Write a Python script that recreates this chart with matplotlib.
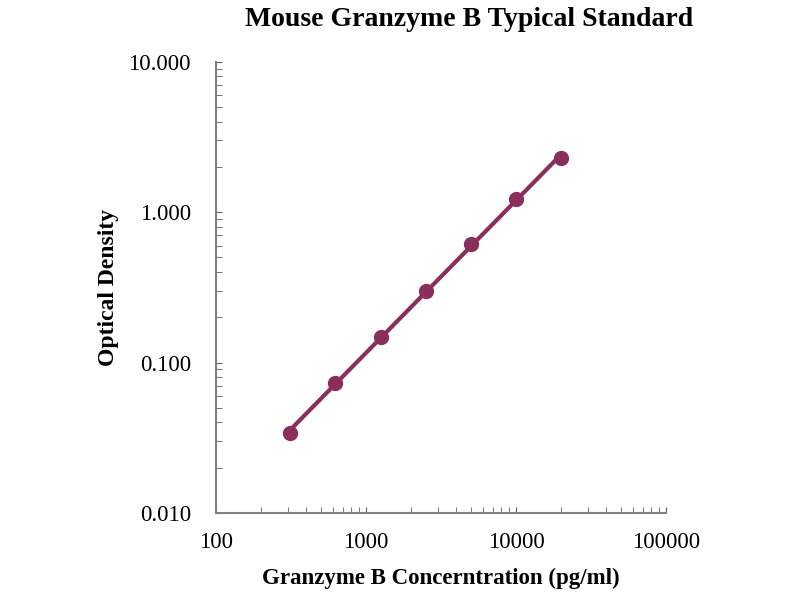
import numpy as np
import matplotlib
matplotlib.use('Agg')
import matplotlib.pyplot as plt
from matplotlib.ticker import LogLocator, FixedLocator, NullFormatter

# standard curve data
conc = [312.5, 625, 1250, 2500, 5000, 10000, 20000]
od = [0.034, 0.073, 0.148, 0.300, 0.615, 1.22, 2.28]

x_ticks = [100, 1000, 10000, 100000]
x_labels = ['100', '1000', '10000', '100000']
y_ticks = [0.01, 0.1, 1, 10]
y_labels = ['0.010', '0.100', '1.000', '10.000']

COLOR = '#8a2f5c'
plt.rcParams['font.family'] = ['Liberation Serif', 'DejaVu Serif']

fig = plt.figure(figsize=(8, 6), dpi=100)
ax = fig.add_axes([0.27, 0.145, 0.5625, 0.752])

# power-law fit in log-log space
lx, ly = np.log10(conc), np.log10(od)
slope, intercept = np.polyfit(lx, ly, 1)
fx = np.array([lx[0], lx[-1]])
ax.plot(10 ** fx, 10 ** (slope * fx + intercept), color=COLOR, lw=3, zorder=2)
ax.plot(conc, od, 'o', color=COLOR, ms=10, zorder=3)

ax.set_xscale('log')
ax.set_yscale('log')
ax.set_xlim(100, 100000)
ax.set_ylim(0.01, 10)

ax.xaxis.set_major_locator(FixedLocator(x_ticks))
ax.set_xticklabels(x_labels)
ax.yaxis.set_major_locator(FixedLocator(y_ticks))
ax.set_yticklabels(y_labels)
ax.xaxis.set_minor_locator(LogLocator(base=10, subs=np.arange(2, 10)))
ax.yaxis.set_minor_locator(LogLocator(base=10, subs=np.arange(2, 10)))
ax.xaxis.set_minor_formatter(NullFormatter())
ax.yaxis.set_minor_formatter(NullFormatter())

for s in ['top', 'right']:
    ax.spines[s].set_visible(False)
for s in ['left', 'bottom']:
    ax.spines[s].set_color('#808080')
    ax.spines[s].set_linewidth(1.5)

ax.tick_params(which='both', direction='in', color='#606060', labelsize=16.5)
ax.tick_params(which='major', length=4)
ax.tick_params(which='minor', length=4)
ax.tick_params(axis='x', pad=14)
ax.tick_params(axis='y', pad=18)

ax.set_xlabel('Granzyme B Concerntration (pg/ml)', fontsize=16.5, fontweight='bold', labelpad=10)
ax.set_ylabel('Optical Density', fontsize=17, fontweight='bold', labelpad=7)
fig.text(0.586, 0.967, 'Mouse Granzyme B Typical Standard', ha='center', va='center',
         fontsize=20, fontweight='bold')

fig.savefig('out.png', dpi=100)
